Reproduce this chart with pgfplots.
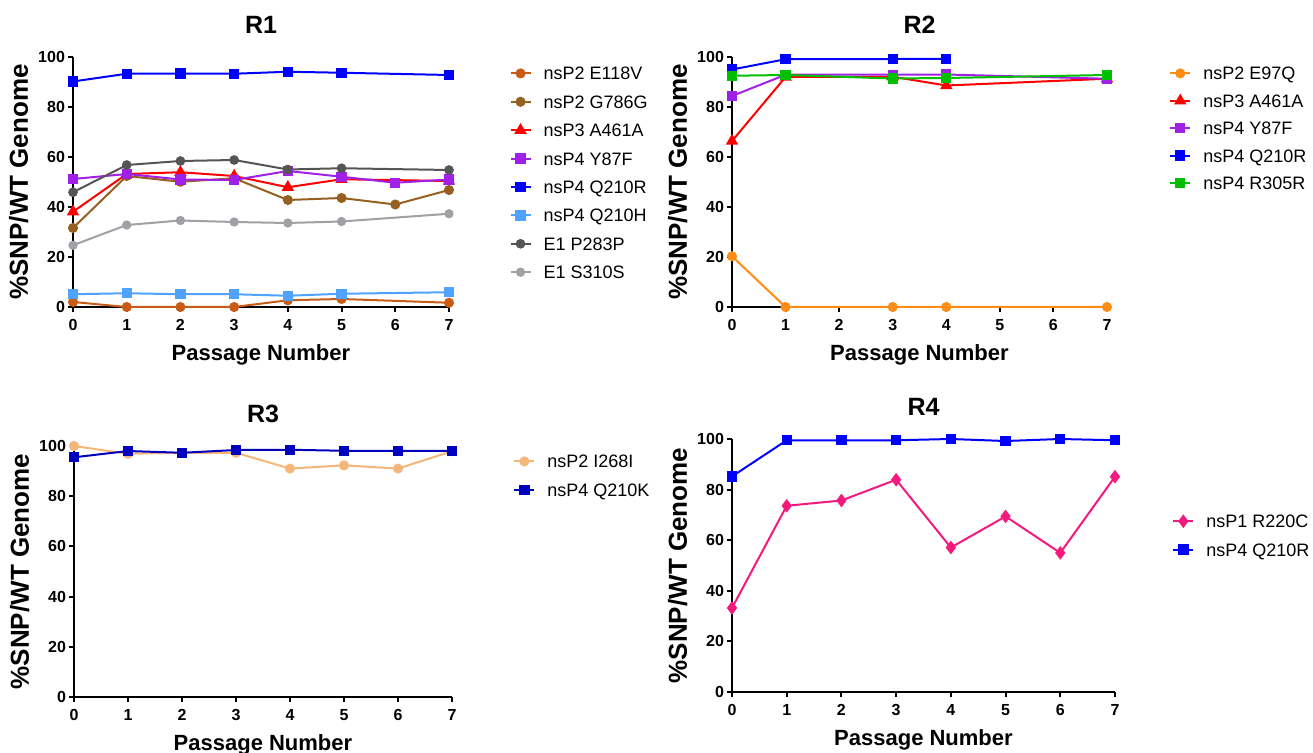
\documentclass[border=0pt]{standalone}
\usepackage{pgfplots}
\pgfplotsset{compat=1.18}
\usepackage{fontspec}
\setmainfont{Liberation Sans}

\definecolor{cE118V}{RGB}{200,92,22}
\definecolor{cG786G}{RGB}{150,96,32}
\definecolor{cA461A}{RGB}{255,0,0}
\definecolor{cY87F}{RGB}{160,32,232}
\definecolor{cQ210R}{RGB}{0,0,255}
\definecolor{cQ210H}{RGB}{80,162,255}
\definecolor{cP283P}{RGB}{85,85,85}
\definecolor{cS310S}{RGB}{160,160,165}
\definecolor{cE97Q}{RGB}{255,140,20}
\definecolor{cR305R}{RGB}{0,190,0}
\definecolor{cI268I}{RGB}{245,182,122}
\definecolor{cQ210K}{RGB}{0,0,190}
\definecolor{cR220C}{RGB}{245,25,125}

\pgfplotsset{
  gp/.style={
    scale only axis,
    xmin=0, xmax=7, ymin=0, ymax=100,
    axis x line*=bottom, axis y line*=left,
    axis line style={line width=1pt, black},
    xtick={0,...,7}, ytick={0,20,...,100},
    tick align=outside, major tick length=2.5pt,
    tick style={line width=1pt, black},
    ticklabel style={font=\bfseries\fontsize{8}{9}\selectfont},
    yticklabel style={xshift=2pt},
    /pgf/number format/assume math mode=true,
    xlabel={Passage Number}, ylabel={\%SNP/WT Genome},
    xlabel style={font=\bfseries\fontsize{11}{13}\selectfont},
    ylabel style={font=\bfseries\fontsize{13}{15}\selectfont},
    ylabel shift=-2pt,
    title style={font=\bfseries\fontsize{12.5}{15}\selectfont, yshift=2pt},
    clip=false,
    legend cell align=left,
    legend style={draw=none, fill=none, anchor=north west,
      font=\fontsize{9}{11}\selectfont, row sep=7.7pt, column sep=6pt,
      nodes={inner sep=0pt, text height=6.5pt, text depth=0pt}},
    legend image code/.code={\draw[mark repeat=2,mark phase=2,#1]
      plot coordinates {(0pt,0pt) (5pt,0pt) (10pt,0pt)};},
    every axis plot/.append style={line width=1pt, mark options={solid}},
  },
  circ/.style={color=#1, mark=*, mark size=2pt},
  sq/.style={color=#1, mark=square*, mark size=2.1pt},
  tri/.style={color=#1, mark=triangle*, mark size=2.6pt},
}

\begin{document}
\begin{tikzpicture}
\useasboundingbox (0,0) rectangle (656.5pt,-376.5pt);

% R1
\begin{axis}[gp, at={(36.5pt,-153.5pt)}, anchor=south west,
  width=188pt, height=125pt, title={R1},
  legend style={at={(1.144,0.978)}}]
\addplot[circ=cE118V] coordinates {(0,2)(1,0)(2,0)(3,0)(4,2.7)(5,3.2)(7,1.7)};
\addplot[circ=cG786G] coordinates {(0,31.6)(1,52.4)(2,50.1)(3,51.5)(4,42.8)(5,43.6)(6,41)(7,46.8)};
\addplot[tri=cA461A] coordinates {(0,38.1)(1,53.2)(2,53.9)(3,52.4)(4,47.9)(5,51.1)(7,50.4)};
\addplot[sq=cY87F] coordinates {(0,51.2)(1,53.2)(2,51)(3,50.8)(4,54.4)(5,52.1)(6,49.7)(7,51)};
\addplot[sq=cQ210R] coordinates {(0,90.2)(1,93.3)(2,93.4)(3,93.3)(4,94.1)(5,93.7)(7,92.8)};
\addplot[sq=cQ210H] coordinates {(0,5.1)(1,5.5)(2,5.1)(3,5.1)(4,4.5)(5,5.3)(7,5.9)};
\addplot[circ=cP283P, mark size=1.9pt] coordinates {(0,45.9)(1,56.8)(2,58.4)(3,58.8)(4,55)(5,55.5)(7,54.8)};
\addplot[circ=cS310S, mark size=1.8pt] coordinates {(0,24.7)(1,32.8)(2,34.6)(3,34)(4,33.6)(5,34.2)(7,37.3)};
\legend{nsP2 E118V, nsP2 G786G, nsP3 A461A, nsP4 Y87F, nsP4 Q210R, nsP4 Q210H, E1 P283P, E1 S310S}
\end{axis}

% R2
\begin{axis}[gp, at={(366pt,-153.5pt)}, anchor=south west,
  width=187.5pt, height=125pt, title={R2},
  legend style={at={(1.149,0.978)}, row sep=7.2pt}]
\addplot[circ=cE97Q] coordinates {(0,20.3)(1,0)(3,0)(4,0)(7,0)};
\addplot[tri=cA461A] coordinates {(0,66.4)(1,92)(3,92.1)(4,88.6)(7,91.3)};
\addplot[sq=cY87F] coordinates {(0,84.4)(1,92.9)(3,92.9)(4,93)(7,91.3)};
\addplot[sq=cQ210R] coordinates {(0,95)(1,99.1)(3,99.2)(4,99.2)};
\addplot[sq=cR305R] coordinates {(0,92.5)(1,92.8)(3,91.4)(4,91.6)(7,92.8)};
\legend{nsP2 E97Q, nsP3 A461A, nsP4 Y87F, nsP4 Q210R, nsP4 R305R}
\end{axis}

% R3
\begin{axis}[gp, at={(37pt,-348.5pt)}, anchor=south west,
  width=189pt, height=125.5pt, title={R3},
  legend style={at={(1.1455,0.982)}}]
\addplot[circ=cI268I] coordinates {(0,100)(1,96.9)(2,97.3)(3,97.3)(4,91)(5,92.3)(6,91)(7,97.9)};
\addplot[sq=cQ210K] coordinates {(0,95.5)(1,98)(2,97.3)(3,98.4)(4,98.5)(5,98.1)(6,98.1)(7,98.1)};
\legend{nsP2 I268I, nsP4 Q210K}
\end{axis}

% R4
\begin{axis}[gp, at={(366pt,-346pt)}, anchor=south west,
  width=191.5pt, height=126.5pt, title={R4},
  legend style={at={(1.133,0.718)}}]
\addplot[color=cR220C, mark=diamond*, mark size=2.6pt] coordinates {(0,33.2)(1,73.6)(2,75.7)(3,83.9)(4,57.1)(5,69.4)(6,55)(7,85.1)};
\addplot[sq=cQ210R] coordinates {(0,85.2)(1,99.5)(2,99.5)(3,99.5)(4,100)(5,99.2)(6,100)(7,99.5)};
\legend{nsP1 R220C, nsP4 Q210R}
\end{axis}
\end{tikzpicture}
\end{document}
